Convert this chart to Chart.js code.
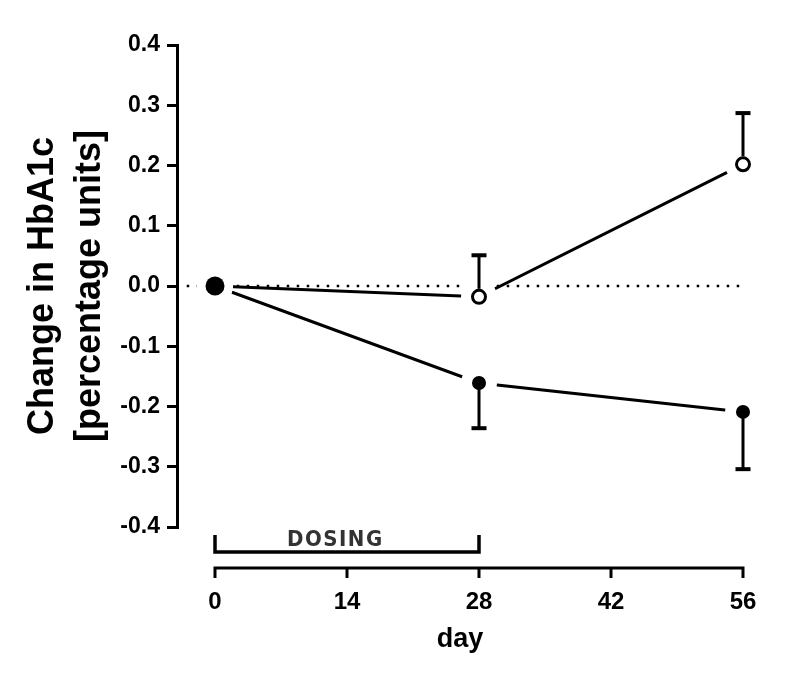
<!DOCTYPE html>
<html><head><meta charset="utf-8">
<style>html,body{margin:0;padding:0;background:#fff}</style>
<script src="https://cdn.jsdelivr.net/npm/chart.js@4.4.1/dist/chart.umd.min.js"></script>
</head><body>
<canvas id="c" width="786" height="679"></canvas>
<script>
const days = [0, 28, 56];
const openMean = [0, -0.018, 0.202];
const openErrUp = [0, 0.069, 0.085];
const filledMean = [0, -0.161, -0.209];
const filledErrDown = [0, 0.075, 0.095];
const yTicks = [-0.4, -0.3, -0.2, -0.1, 0, 0.1, 0.2, 0.3, 0.4];
const xTicks = [0, 14, 28, 42, 56];
const zeroLineX = [-3, 56];
const dosingRange = [0, 28];
const dosingLabel = 'DOSING';
const xTitle = 'day';
const yTitle = ['Change in HbA1c', '[percentage units]'];

const pts = (xs, ys) => xs.map((x, i) => ({x, y: ys[i]}));
const FONT = "'Liberation Sans', Arial, Helvetica, sans-serif";

const errorBars = {
  id: 'errorBars',
  afterDatasetsDraw(chart) {
    const {ctx, scales: {x, y}} = chart;
    const draw = (means, errs, dir, startOff) => {
      ctx.save();
      ctx.strokeStyle = '#000';
      days.forEach((d, i) => {
        if (!errs[i]) return;
        const px = x.getPixelForValue(d);
        const p0 = y.getPixelForValue(means[i]) - dir * startOff;
        const p1 = y.getPixelForValue(means[i] + dir * errs[i]);
        ctx.lineWidth = 3;
        ctx.beginPath(); ctx.moveTo(px, p0); ctx.lineTo(px, p1); ctx.stroke();
        ctx.lineWidth = 4;
        ctx.beginPath(); ctx.moveTo(px - 7.5, p1); ctx.lineTo(px + 7.5, p1); ctx.stroke();
      });
      ctx.restore();
    };
    draw(openMean, openErrUp, 1, 8);
    draw(filledMean, filledErrDown, -1, 0);
  }
};

const customAxis = {
  id: 'customAxis',
  afterDraw(chart) {
    const {ctx, chartArea, scales: {x}} = chart;
    const axisY = chartArea.bottom + 41;
    const barY = chartArea.bottom + 25;
    ctx.save();
    ctx.strokeStyle = '#000';
    ctx.lineWidth = 3;
    ctx.beginPath();
    ctx.moveTo(x.getPixelForValue(xTicks[0]) - 1.5, axisY);
    ctx.lineTo(x.getPixelForValue(xTicks[xTicks.length - 1]) + 1.5, axisY);
    xTicks.forEach(t => {
      const px = x.getPixelForValue(t);
      ctx.moveTo(px, axisY); ctx.lineTo(px, axisY + 10);
    });
    ctx.stroke();
    const d0 = x.getPixelForValue(dosingRange[0]), d1 = x.getPixelForValue(dosingRange[1]);
    ctx.lineWidth = 3.5;
    ctx.beginPath();
    ctx.moveTo(d0, barY - 17); ctx.lineTo(d0, barY); ctx.lineTo(d1, barY); ctx.lineTo(d1, barY - 17);
    ctx.stroke();
    ctx.fillStyle = '#333';
    ctx.font = "bold 22px 'Liberation Sans Narrow', 'DejaVu Sans Condensed', sans-serif";
    ctx.textAlign = 'left';
    ctx.textBaseline = 'alphabetic';
    try { ctx.letterSpacing = '1.5px'; } catch (e) {}
    ctx.fillText(dosingLabel, d0 + 72, barY - 6);
    ctx.restore();
  }
};

const common = {showLine: false, clip: false, borderWidth: 0, pointBorderWidth: 0, pointHoverRadius: 0};

new Chart(document.getElementById('c'), {
  type: 'scatter',
  data: {
    datasets: [
      Object.assign({}, common, {label: 'filled', data: pts(days, filledMean), pointRadius: [9.5, 7, 7],
        pointBackgroundColor: '#000', order: 0}),
      Object.assign({}, common, {label: 'open', data: pts(days, openMean), pointRadius: [5, 6.5, 6.5],
        pointBackgroundColor: '#fff', pointBorderColor: '#000', pointBorderWidth: 3, order: 1}),
      Object.assign({}, common, {label: 'haloF', data: pts(days, filledMean), pointRadius: 18,
        pointBackgroundColor: '#fff', order: 2}),
      Object.assign({}, common, {label: 'haloO', data: pts(days, openMean), pointRadius: 18,
        pointBackgroundColor: '#fff', order: 2}),
      {label: 'lineF', data: pts(days, filledMean), showLine: true, clip: false, pointRadius: 0,
        borderColor: '#000', borderWidth: 3, tension: 0, order: 3},
      {label: 'lineO', data: pts(days, openMean), showLine: true, clip: false, pointRadius: 0,
        borderColor: '#000', borderWidth: 3, tension: 0, order: 3},
      {label: 'zero', data: pts(zeroLineX, [0, 0]), showLine: true, clip: false, pointRadius: 0,
        borderColor: '#000', borderWidth: 2.5, borderDash: [2.5, 7.5], order: 4}
    ]
  },
  options: {
    responsive: false,
    animation: false,
    events: [],
    layout: {padding: {top: 45, right: 43, bottom: 0, left: 0}},
    plugins: {legend: {display: false}, tooltip: {enabled: false}},
    scales: {
      x: {
        type: 'linear', min: -4.03, max: 56,
        grid: {display: false}, border: {display: false},
        afterBuildTicks: s => { s.ticks = xTicks.map(v => ({value: v})); },
        ticks: {color: '#000', font: {family: FONT, size: 24, weight: 'bold'}, padding: 53,
          maxRotation: 0, autoSkip: false, callback: v => String(v)},
        title: {display: true, text: xTitle, color: '#000',
          font: {family: FONT, size: 27, weight: 'bold'}, padding: {top: 0, bottom: 23}},
        afterFit: s => { s.height = 152; s.paddingLeft = 0; s.paddingRight = 0; }
      },
      y: {
        type: 'linear', min: -0.4, max: 0.4,
        afterBuildTicks: s => { s.ticks = yTicks.map(v => ({value: v})); },
        grid: {drawOnChartArea: false, drawTicks: true, tickLength: 10, lineWidth: 3, color: '#000'},
        border: {display: true, width: 3, color: '#000'},
        ticks: {color: '#000', font: {family: FONT, size: 23, weight: 'bold'}, padding: 7,
          callback: v => v.toFixed(1)},
        title: {display: true, text: yTitle, color: '#000',
          font: {family: FONT, size: 36, weight: 'bold', lineHeight: 1.3}, padding: {top: 20, bottom: 0}},
        afterFit: s => { s.width = 177; s.paddingTop = 0; s.paddingBottom = 0; }
      }
    }
  },
  plugins: [errorBars, customAxis]
});
</script>
</body></html>
